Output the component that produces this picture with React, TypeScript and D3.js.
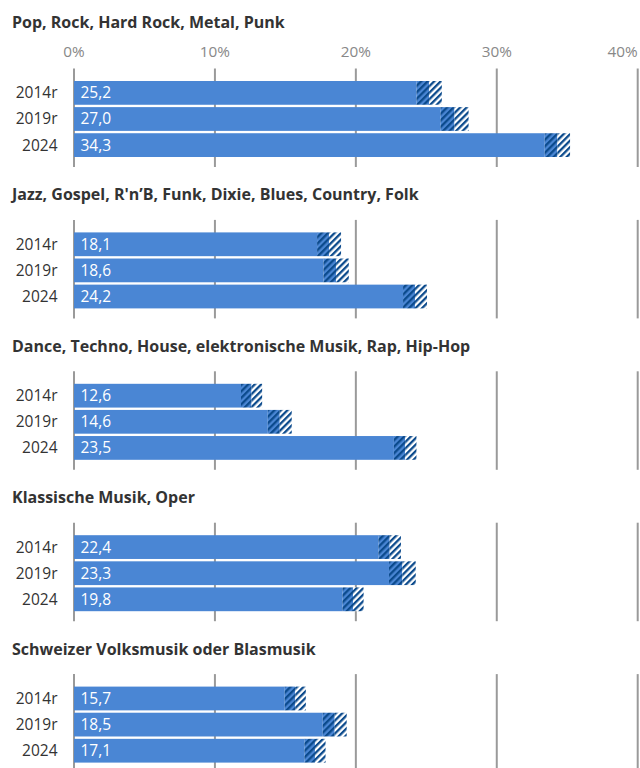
import React from "react";
import * as d3 from "d3";

const titles = [
  "Pop, Rock, Hard Rock, Metal, Punk",
  "Jazz, Gospel, R'n’B, Funk, Dixie, Blues, Country, Folk",
  "Dance, Techno, House, elektronische Musik, Rap, Hip-Hop",
  "Klassische Musik, Oper",
  "Schweizer Volksmusik oder Blasmusik",
];
const years = ["2014r", "2019r", "2024"];
const popValues = [25.2, 27.0, 34.3];
const popCI = [0.9, 1.0, 0.9];
const jazzValues = [18.1, 18.6, 24.2];
const jazzCI = [0.85, 0.9, 0.85];
const danceValues = [12.6, 14.6, 23.5];
const danceCI = [0.75, 0.85, 0.8];
const klassikValues = [22.4, 23.3, 19.8];
const klassikCI = [0.8, 0.95, 0.75];
const volksValues = [15.7, 18.5, 17.1];
const volksCI = [0.75, 0.85, 0.75];
const ticks = [0, 10, 20, 30, 40];

const series = [
  { values: popValues, ci: popCI },
  { values: jazzValues, ci: jazzCI },
  { values: danceValues, ci: danceCI },
  { values: klassikValues, ci: klassikCI },
  { values: volksValues, ci: volksCI },
];

const W = 640;
const H = 768;
const BLUE = "#4a86d4";
const DARK = "#0b4a8c";
const FONT = "'Open Sans', sans-serif";

export default function App() {
  const x = d3.scaleLinear().domain([0, 40]).range([74, 637.7]);
  const panelTop = (i: number) => 81 + i * 151.4;
  const y = d3.scaleBand().domain(years).range([0, 76]).paddingInner(0.09).paddingOuter(0);
  const fmt = (v: number) => v.toFixed(1).replace(".", ",");

  return (
    <svg
      width={W}
      height={H}
      style={{ position: "absolute", left: 0, top: 0, background: "#fff" }}
      fontFamily={FONT}
    >
      <defs>
        <pattern id="hatchBlue" patternUnits="userSpaceOnUse" width={4.6} height={4.6} patternTransform="rotate(45)">
          <rect width={4.6} height={4.6} fill={BLUE} />
          <rect width={2.3} height={4.6} fill={DARK} />
        </pattern>
        <pattern id="hatchWhite" patternUnits="userSpaceOnUse" width={4.6} height={4.6} patternTransform="rotate(45)">
          <rect width={4.6} height={4.6} fill="#fff" />
          <rect width={2.3} height={4.6} fill={DARK} />
        </pattern>
      </defs>

      {ticks.map((t, i) => (
        <text
          key={"tl" + t}
          x={x(t)}
          y={57}
          textAnchor={i === ticks.length - 1 ? "end" : "middle"}
          fontSize={15.3}
          fill="#888"
        >
          {t}%
        </text>
      ))}

      {series.map((s, pi) => {
        const top = panelTop(pi);
        const titleY = pi === 0 ? top - 53.5 : top - 32;
        return (
          <g key={"p" + pi}>
            <text x={12} y={titleY} fontSize={16} fontWeight={700} fill="#333">
              {titles[pi]}
            </text>
            {ticks.map((t) => (
              <line
                key={"g" + t}
                x1={x(t)}
                x2={x(t)}
                y1={top - 12.5}
                y2={top + 86}
                stroke="#9a9a9a"
                strokeWidth={2}
              />
            ))}
            {years.map((yr, bi) => {
              const v = s.values[bi];
              const c = s.ci[bi];
              const by = top + (y(yr) as number);
              const bh = y.bandwidth();
              return (
                <g key={yr}>
                  <rect x={x(0)} y={by} width={x(v - c) - x(0)} height={bh} fill={BLUE} />
                  <rect x={x(v - c)} y={by} width={x(v) - x(v - c)} height={bh} fill="url(#hatchBlue)" />
                  <rect x={x(v)} y={by} width={x(v + c) - x(v)} height={bh} fill="url(#hatchWhite)" />
                  <text x={57.5} y={by + bh / 2} dy="0.35em" textAnchor="end" fontSize={15.5} fill="#333">
                    {yr}
                  </text>
                  <text x={80.5} y={by + bh / 2} dy="0.35em" fontSize={15.5} fill="#fff">
                    {fmt(v)}
                  </text>
                </g>
              );
            })}
          </g>
        );
      })}
    </svg>
  );
}
